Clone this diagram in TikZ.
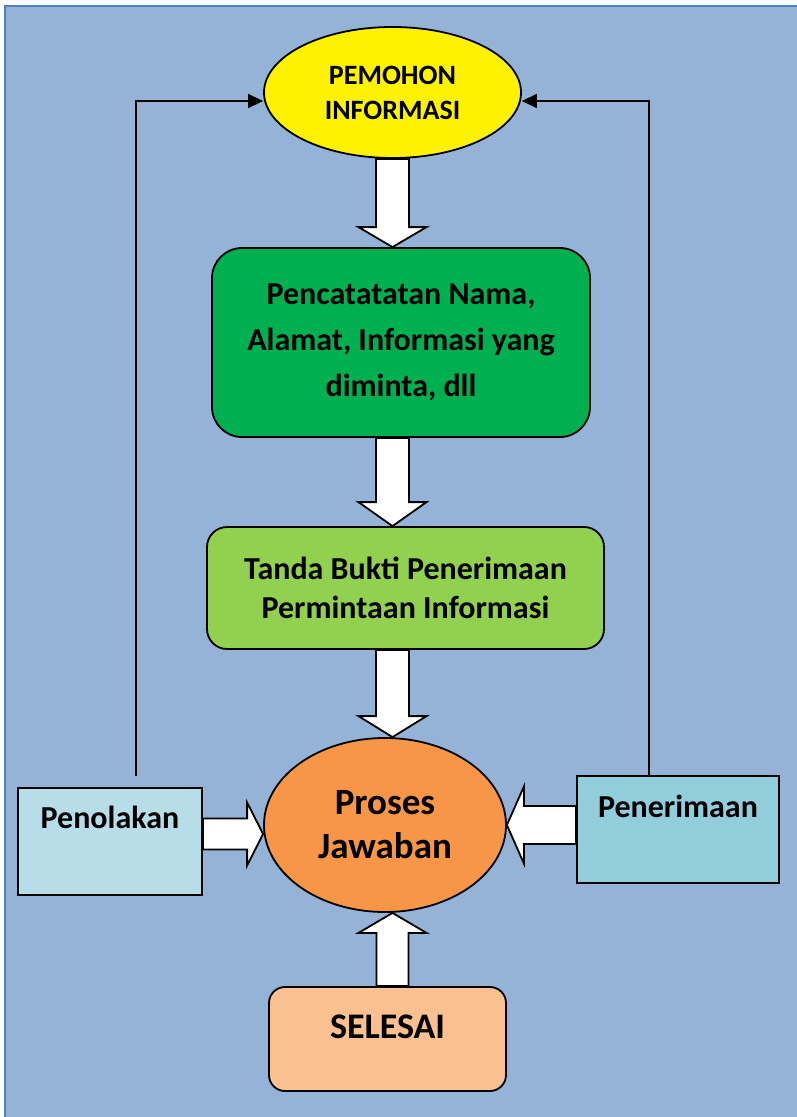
\documentclass[tikz,border=0pt]{standalone}
\usepackage{fontspec}
\setmainfont{Carlito}
\usetikzlibrary{shapes.geometric,arrows.meta,calc}

\definecolor{bgtop}{HTML}{95B3D7}
\definecolor{bgmid}{HTML}{4F81BD}
\definecolor{bgline}{HTML}{4F81BD}
\definecolor{catatgreen}{HTML}{00B050}
\definecolor{tandagreen}{HTML}{92D050}
\definecolor{prosesorange}{HTML}{F79646}
\definecolor{tolakblue}{HTML}{B7DDE8}
\definecolor{terimablue}{HTML}{92CDDC}
\definecolor{selesaipeach}{HTML}{FAC090}

\newcommand{\fatarrow}[5]{%
  \coordinate (fa-h) at ($(#2)!#5!(#1)$);
  \draw[fat] ($(#1)!#3!90:(#2)$) -- ($(fa-h)!#3!90:(#2)$) -- ($(fa-h)!#4!90:(#2)$) -- (#2)
    -- ($(fa-h)!#4!-90:(#2)$) -- ($(fa-h)!#3!-90:(#2)$) -- ($(#1)!#3!-90:(#2)$) -- cycle;}

\begin{document}
\begin{tikzpicture}[x=1pt,y=-1pt,
    box/.style={draw=black,line width=1.8pt,inner sep=0pt,font=\bfseries\fontsize{32}{46}\selectfont},
    multi/.style={align=center},
    fat/.style={draw=black,fill=white,line width=1.8pt,line join=miter},
    feedback/.style={draw=black,line width=1.5pt,-{Triangle[length=15pt,width=14pt]}}]
  \useasboundingbox (0,0) rectangle (796,1117);
  \shadedraw[top color=bgtop,middle color=bgmid,bottom color=bgtop,draw=bgline,line width=1.5pt] (5,6) rectangle (802,1123);

  \node[box,multi,ellipse,fill=yellow,minimum width=257pt,minimum height=131pt,
    font=\bfseries\fontsize{28}{35}\selectfont] (pemohon) at (392.5,92.5) {PEMOHON\\INFORMASI};
  \node[box,multi,rounded corners=30pt,fill=catatgreen,minimum width=378pt,minimum height=189pt]
    (catat) at (401,342.5) {Pencatatatan Nama,\\Alamat, Informasi yang\\diminta, dll};
  \node[box,multi,rounded corners=20pt,fill=tandagreen,minimum width=397pt,minimum height=122pt,
    font=\bfseries\fontsize{32}{39}\selectfont] (tanda) at (405.5,588) {Tanda Bukti Penerimaan\\Permintaan Informasi};
  \node[box,multi,ellipse,fill=prosesorange,minimum width=242pt,minimum height=174pt,
    font=\bfseries\fontsize{37}{44}\selectfont] (proses) at (385,825) {Proses\\Jawaban};
  \node[box,fill=tolakblue,minimum width=184pt,minimum height=107pt,text height=24pt,text depth=51pt]
    (penolakan) at (110,841.5) {Penolakan};
  \node[box,fill=terimablue,minimum width=202pt,minimum height=107pt,text height=24pt,text depth=49pt]
    (penerimaan) at (678,829.5) {Penerimaan};
  \node[box,rounded corners=16pt,fill=selesaipeach,minimum width=237pt,minimum height=104pt,
    text height=23pt,text depth=25pt,font=\bfseries\fontsize{36}{44}\selectfont] (selesai) at (387.5,1039) {SELESAI};

  \fatarrow{pemohon.south}{catat.north -| pemohon.south}{16.5pt}{34pt}{20pt}
  \fatarrow{catat.south -| pemohon.south}{tanda.north -| pemohon.south}{16.5pt}{34pt}{24pt}
  \fatarrow{tanda.south -| pemohon.south}{proses.north -| pemohon.south}{16.5pt}{34pt}{21pt}
  \fatarrow{selesai.north -| pemohon.south}{proses.south -| pemohon.south}{16pt}{34pt}{20pt}
  \coordinate (tolak-tip) at ([yshift=-9pt]proses.west);
  \fatarrow{penolakan.east |- tolak-tip}{tolak-tip}{15.5pt}{31.5pt}{16pt}
  \fatarrow{penerimaan.west |- proses.east}{proses.east}{19pt}{38.5pt}{17pt}

  \draw[feedback] ([xshift=26pt,yshift=11pt]penolakan.north) |- ([yshift=-8.5pt]pemohon.west);
  \draw[feedback] ([xshift=-29pt]penerimaan.north) |- ([yshift=-8.5pt]pemohon.east);
\end{tikzpicture}
\end{document}
